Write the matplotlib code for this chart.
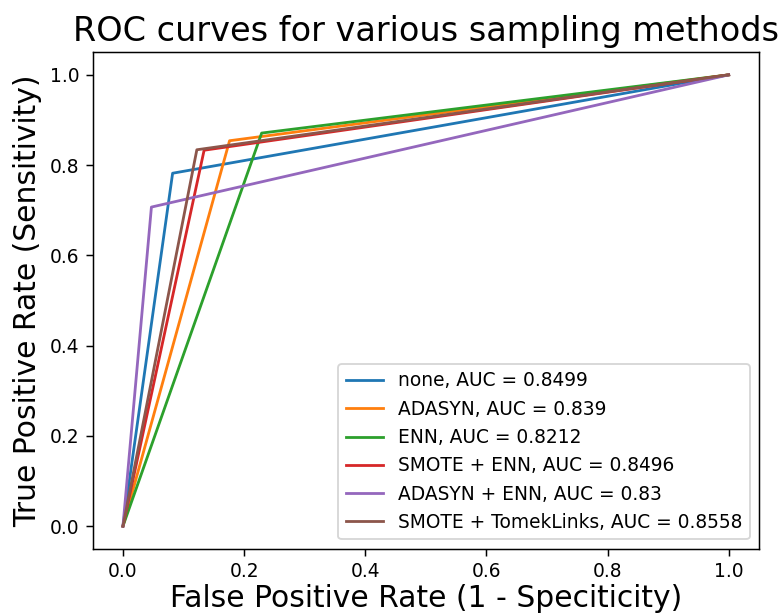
import matplotlib
matplotlib.use("Agg")
import matplotlib.pyplot as plt

# Puntos de las curvas ROC (0,0) -> (fpr, tpr) -> (1,1)
metodos = ["none", "ADASYN", "ENN", "SMOTE + ENN", "ADASYN + ENN", "SMOTE + TomekLinks"]
auc = ["0.8499", "0.839", "0.8212", "0.8496", "0.83", "0.8558"]
fpr = [0.082, 0.176, 0.229, 0.134, 0.047, 0.122]
tpr = [0.782, 0.854, 0.871, 0.833, 0.707, 0.834]

dpi = 134
fig = plt.figure(figsize=(782 / dpi, 613 / dpi), dpi=dpi)
ax = fig.add_axes([0.1185, 0.1049, 0.852, 0.8098])

for nombre, a, f, t in zip(metodos, auc, fpr, tpr):
    ax.plot([0, f, 1], [0, t, 1], label=f"{nombre}, AUC = {a}")

ax.set_title("ROC curves for various sampling methods", fontsize=18)
ax.set_xlabel("False Positive Rate (1 - Speciticity)", fontsize=16, labelpad=2)
ax.set_ylabel("True Positive Rate (Sensitivity)", fontsize=16)
ax.legend(loc="lower right")

fig.savefig("out.png", dpi=dpi)
